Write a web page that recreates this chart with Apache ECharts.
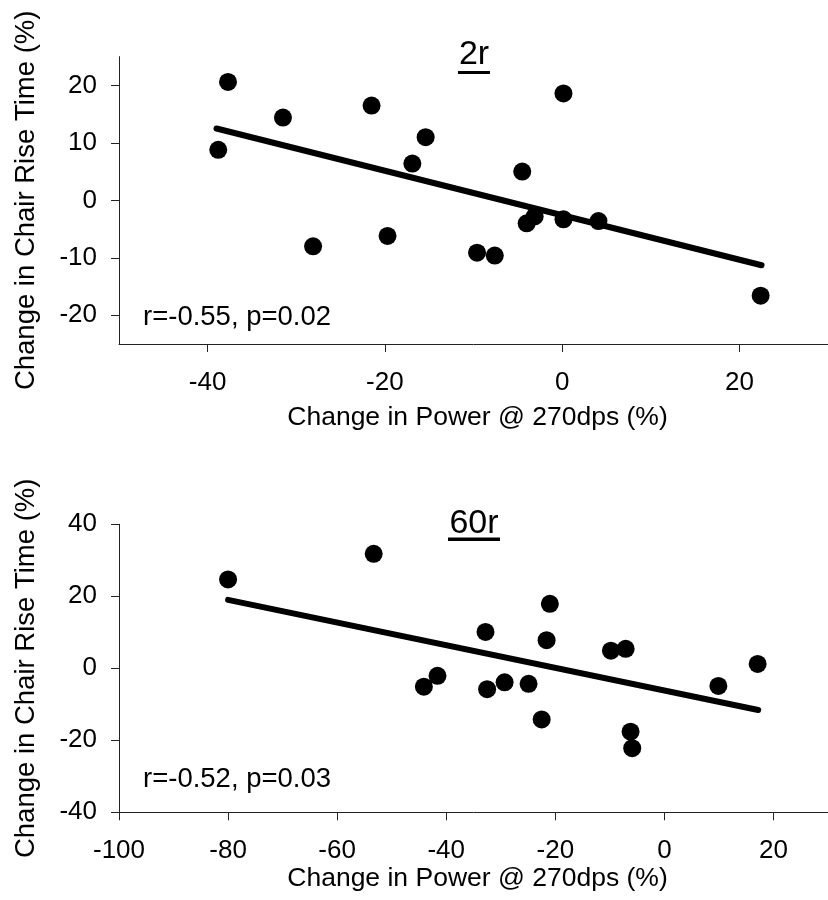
<!DOCTYPE html>
<html>
<head>
<meta charset="utf-8">
<style>
html,body{margin:0;padding:0;background:#fff;}
#chart{width:828px;height:900px;}
</style>
<script src="https://cdn.jsdelivr.net/npm/echarts@6/dist/echarts.min.js"></script>
</head>
<body>
<div id="chart"></div>
<script>
// ---- Data ----
var topX = [-38.8, -37.7, -31.5, -28.1, -21.5, -19.7, -16.9, -15.4, -4.5, -9.6, -7.6, -4.0, -3.1, 0.15, 0.15, 4.1, 22.4];
var topY = [8.8, 20.6, 14.4, -8.0, 16.5, -6.2, 6.4, 11.0, 5.0, -9.1, -9.6, -4.0, -2.8, 18.6, -3.3, -3.6, -16.6];
var topFitX = [-39, 22.5];
var topFitY = [12.5, -11.3];

var botX = [-80, -53.3, -44.1, -41.6, -32.8, -32.5, -29.3, -24.9, -22.5, -21.6, -21.0, -9.8, -7.1, -6.2, -5.9, 9.9, 17.1];
var botY = [24.7, 31.8, -5.1, -2.1, 10.1, -5.8, -3.9, -4.3, -14.2, 7.8, 17.9, 4.9, 5.4, -17.6, -22.2, -4.9, 1.2];
var botFitX = [-80, 17.2];
var botFitY = [19.0, -11.6];

var topXTicks = [-40, -20, 0, 20];
var topYTicks = [-20, -10, 0, 10, 20];
var botXTicks = [-100, -80, -60, -40, -20, 0, 20];
var botYTicks = [-40, -20, 0, 20, 40];

var xTitle = 'Change in Power @ 270dps (%)';
var yTitle = 'Change in Chair Rise Time (%)';
var panelTitles = ['2r', '60r'];
var stats = ['r=-0.55, p=0.02', 'r=-0.52, p=0.03'];

// ---- Helpers ----
function zip(a, b) { return a.map(function (v, i) { return [v, b[i]]; }); }
var FONT = "'Liberation Sans', Arial, sans-serif";
var AX = '#222';

function xAxis(idx, min, max, ticks, gap) {
  return {
    type: 'value', gridIndex: idx, min: min, max: max,
    name: xTitle, nameLocation: 'middle', nameGap: gap,
    nameTextStyle: { fontFamily: FONT, fontSize: 26.5, color: '#000', padding: [0, 0, 0, 8] },
    axisLine: { show: true, onZero: false, lineStyle: { color: AX, width: 1 } },
    axisTick: { show: true, length: 8, customValues: ticks, lineStyle: { color: AX, width: 1 } },
    axisLabel: { customValues: ticks, margin: 26, fontFamily: FONT, fontSize: 26, color: '#000' },
    splitLine: { show: false }
  };
}
function yAxis(idx, min, max, ticks) {
  return {
    type: 'value', gridIndex: idx, min: min, max: max,
    name: yTitle, nameLocation: 'middle', nameGap: 79, nameRotate: 90,
    nameTextStyle: { fontFamily: FONT, fontSize: 27.5, color: '#000' },
    axisLine: { show: true, onZero: false, lineStyle: { color: AX, width: 1 } },
    axisTick: { show: true, length: 8, customValues: ticks, lineStyle: { color: AX, width: 1 } },
    axisLabel: { customValues: ticks, margin: 22, fontFamily: FONT, fontSize: 26, color: '#000' },
    splitLine: { show: false }
  };
}

var chart = echarts.init(document.getElementById('chart'), null, { renderer: 'canvas' });
chart.setOption({
  backgroundColor: '#fff',
  animation: false,
  grid: [
    { left: 119, top: 56.7, width: 716, height: 287.3 },
    { left: 119, top: 524.3, width: 715, height: 288 }
  ],
  xAxis: [xAxis(0, -50, 30, topXTicks, 60), xAxis(1, -100, 30, botXTicks, 48)],
  yAxis: [yAxis(0, -25, 25, topYTicks), yAxis(1, -40, 40, botYTicks)],
  series: [
    { type: 'line', xAxisIndex: 0, yAxisIndex: 0, data: zip(topFitX, topFitY), symbol: 'none',
      lineStyle: { color: '#000', width: 6, cap: 'round' }, z: 2 },
    { type: 'scatter', xAxisIndex: 0, yAxisIndex: 0, data: zip(topX, topY), symbolSize: 18,
      itemStyle: { color: '#000', opacity: 1 }, z: 3 },
    { type: 'line', xAxisIndex: 1, yAxisIndex: 1, data: zip(botFitX, botFitY), symbol: 'none',
      lineStyle: { color: '#000', width: 6, cap: 'round' }, z: 2 },
    { type: 'scatter', xAxisIndex: 1, yAxisIndex: 1, data: zip(botX, botY), symbolSize: 18,
      itemStyle: { color: '#000', opacity: 1 }, z: 3 }
  ],
  graphic: [
    { type: 'text', x: 474, y: 55, style: { text: panelTitles[0], fill: '#000', font: '34px ' + FONT, align: 'center', verticalAlign: 'middle' } },
    { type: 'rect', shape: { x: 458, y: 71, width: 32, height: 3 }, style: { fill: '#000' } },
    { type: 'text', x: 474, y: 523.5, style: { text: panelTitles[1], fill: '#000', font: '34px ' + FONT, align: 'center', verticalAlign: 'middle' } },
    { type: 'rect', shape: { x: 448, y: 537.5, width: 52, height: 3.5 }, style: { fill: '#000' } },
    { type: 'text', x: 143, y: 317.5, style: { text: stats[0], fill: '#000', font: '27.5px ' + FONT, align: 'left', verticalAlign: 'middle' } },
    { type: 'text', x: 143, y: 779, style: { text: stats[1], fill: '#000', font: '27.5px ' + FONT, align: 'left', verticalAlign: 'middle' } }
  ]
});
</script>
</body>
</html>
